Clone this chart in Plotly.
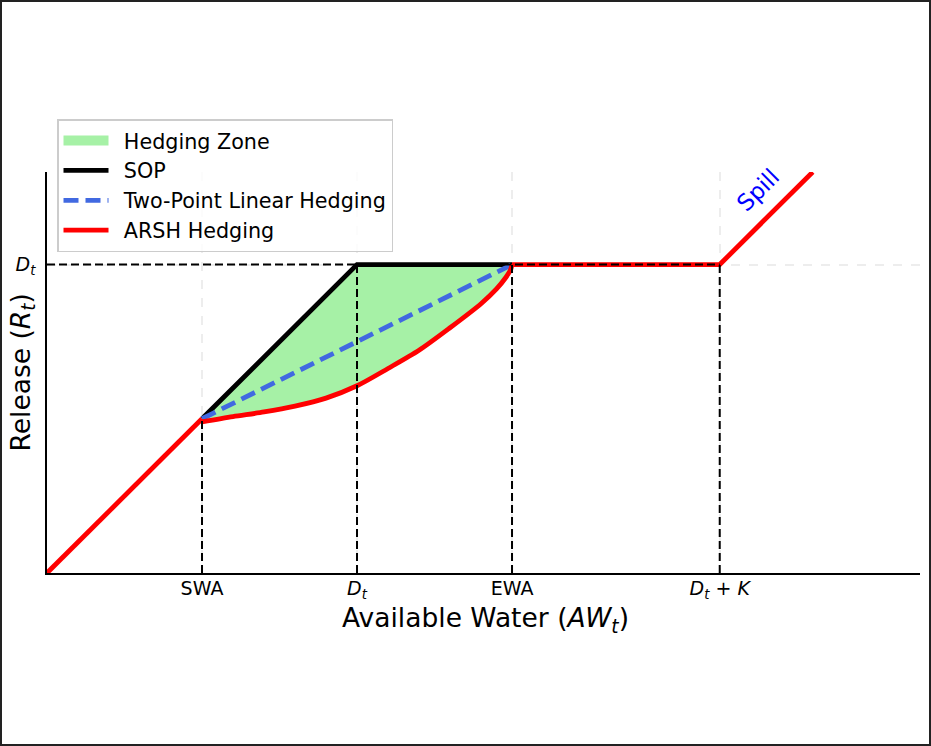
import plotly.graph_objects as go

# key points on the available water axis (Dt = 1)
tick_x = [0.5, 1.0, 1.5, 2.17]
tick_text = ["SWA", "<i>D<sub>t</sub></i>", "EWA", "<i>D<sub>t</sub></i> + <i>K</i>"]
demand = 1.0
y_tick_text = ["<i>D<sub>t</sub></i>"]

swa, dt, ewa, dtk = tick_x

# SOP hedging segment
sop_x = [swa, dt, ewa]
sop_y = [0.5, 1.0, 1.0]

# two point linear hedging
lin_x = [swa, ewa]
lin_y = [0.5, 1.0]

# ARSH curve
arsh_x = [0.5, 0.6, 0.7, 0.8, 0.9, 1.0, 1.1, 1.2, 1.3, 1.4, 1.45, 1.48, 1.495, 1.5]
arsh_y = [0.49, 0.507, 0.522, 0.541, 0.567, 0.607, 0.663, 0.722, 0.795, 0.873, 0.921, 0.958, 0.982, 1.0]

# spill line end
spill_x = [dtk, 2.47]
spill_y = [1.0, 1.3]

X_MAX = 2.816
Y_MAX = 1.3
W, H = 931, 746
ML, MR, MT, MB = 47, 11, 172, 173
PW, PH = W - ML - MR, H - MT - MB

font = "DejaVu Sans"
green = "rgba(144,238,144,0.8)"
LW = 4.8

fig = go.Figure()

# hedging zone: curve (invisible) then SOP filled to it
fig.add_trace(go.Scatter(x=arsh_x, y=arsh_y, mode="lines", line=dict(width=0, shape="spline", smoothing=0.8),
                         showlegend=False, hoverinfo="skip"))
fig.add_trace(go.Scatter(x=sop_x, y=sop_y, mode="lines", line=dict(width=0),
                         fill="tonexty", fillcolor=green, showlegend=False, hoverinfo="skip"))
# legend entry for the zone
fig.add_trace(go.Scatter(x=[None], y=[None], mode="lines", line=dict(color="#a6f1a6", width=15),
                         name="\u2002Hedging Zone"))

fig.add_trace(go.Scatter(x=sop_x, y=sop_y, mode="lines",
                         line=dict(color="black", width=LW), name="\u2002SOP"))

fig.add_trace(go.Scatter(x=lin_x, y=lin_y, mode="lines",
                         line=dict(color="royalblue", width=LW, dash="15px,7px"),
                         name="\u2002Two-Point Linear Hedging"))

red_x = [0, swa, None, ewa, dtk] + spill_x[1:]
red_y = [0, 0.5, None, demand, demand] + spill_y[1:]
fig.add_trace(go.Scatter(x=red_x, y=red_y, mode="lines", connectgaps=False,
                         line=dict(color="red", width=LW), name="\u2002ARSH Hedging"))
fig.add_trace(go.Scatter(x=arsh_x, y=arsh_y, mode="lines",
                         line=dict(color="red", width=LW, shape="spline", smoothing=0.8),
                         showlegend=False, hoverinfo="skip"))

# dashed reference lines
ref_dash = dict(color="black", width=2, dash="8px,4px")
fig.add_trace(go.Scatter(x=[0, dtk], y=[demand, demand], mode="lines",
                         line=ref_dash, showlegend=False, hoverinfo="skip"))
ref_top = [0.5, demand, demand, demand]
for xv, yv in zip(tick_x, ref_top):
    fig.add_trace(go.Scatter(x=[xv, xv], y=[0, yv], mode="lines",
                             line=ref_dash, showlegend=False, hoverinfo="skip"))

fig.add_annotation(x=2.294, y=1.241, text="Spill", showarrow=False, textangle=-45,
                   font=dict(family=font, size=23, color="blue"))

# axis titles
fig.add_annotation(xref="paper", yref="paper", x=(485 - ML) / PW, y=(573 - 619) / PH,
                   text="Available Water (<i>AW<sub>t</sub></i>)", showarrow=False,
                   font=dict(family=font, size=26.5, color="black"),
                   xanchor="center", yanchor="middle")
fig.add_annotation(xref="paper", yref="paper", x=(22 - ML) / PW, y=0.5,
                   text="Release (<i>R<sub>t</sub></i>)", showarrow=False, textangle=-90,
                   font=dict(family=font, size=26.5, color="black"),
                   xanchor="center", yanchor="middle")

# figure border
fig.add_shape(type="rect", xref="paper", yref="paper",
              x0=(1 - ML) / PW, x1=(930 - ML) / PW,
              y0=-(MB - 1) / PH, y1=1 + (MT - 1) / PH,
              line=dict(color="#222222", width=2), layer="above")

fig.update_layout(
    width=W, height=H,
    margin=dict(l=ML, r=MR, t=MT, b=MB),
    plot_bgcolor="white", paper_bgcolor="white",
    font=dict(family=font, size=19, color="black"),
    showlegend=True,
    legend=dict(x=10 / PW, y=(573 - 119) / PH, xanchor="left", yanchor="top",
                traceorder="normal",
                bgcolor="rgba(255,255,255,0.8)", bordercolor="#cccccc", borderwidth=1.5,
                font=dict(family=font, size=20.7), itemwidth=45),
)
fig.update_xaxes(range=[0, X_MAX], tickvals=tick_x, ticktext=tick_text,
                 showline=True, linecolor="black", linewidth=1.5, zeroline=False,
                 showgrid=True, gridcolor="rgba(0,0,0,0.07)", gridwidth=1.5, griddash="dash",
                 ticks="", ticklabelstandoff=-3, tickfont=dict(size=19))
fig.update_yaxes(range=[0, Y_MAX], tickvals=[demand], ticktext=y_tick_text,
                 showline=True, linecolor="black", linewidth=1.5, zeroline=False,
                 showgrid=True, gridcolor="rgba(0,0,0,0.07)", gridwidth=1.5, griddash="dash",
                 ticks="", ticklabelstandoff=6, tickfont=dict(size=19))

fig.write_html("out.html", config={"displayModeBar": False},
               post_script="document.body.style.margin='0';")
